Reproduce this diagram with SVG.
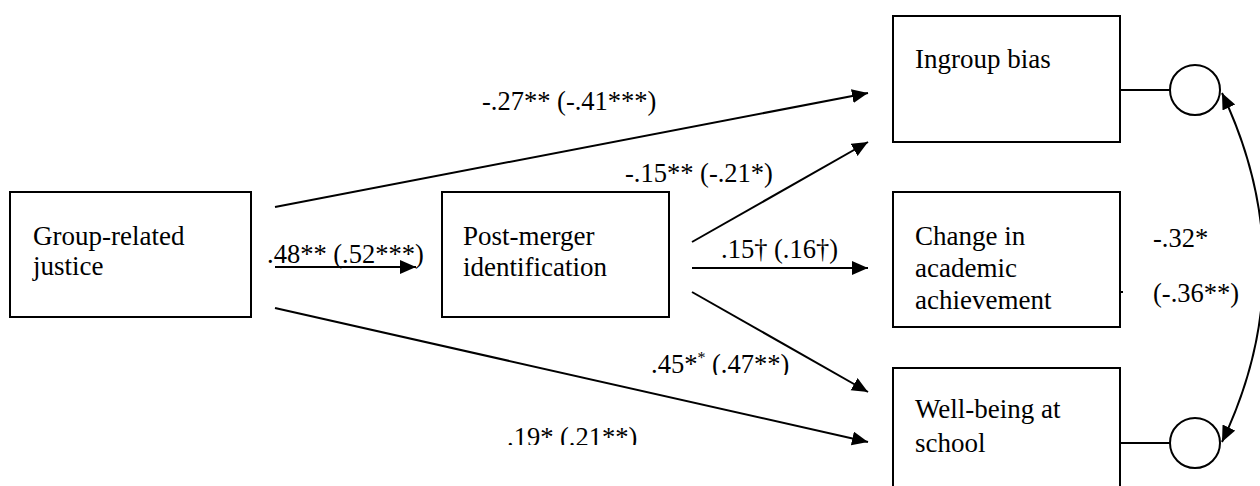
<svg xmlns="http://www.w3.org/2000/svg" width="1260" height="486" viewBox="0 0 1260 486">
<style>
.box{fill:#fff;stroke:#000;stroke-width:2}
.t{font-family:'Liberation Serif','Tinos','Times New Roman','DejaVu Serif','Noto Serif',serif;font-size:27px;fill:#000}
.e{font-family:'Liberation Serif','Tinos','Times New Roman','DejaVu Serif','Noto Serif',serif;font-size:26.5px;fill:#000}
.ln{fill:none;stroke:#000;stroke-width:2}
.ar{fill:none;stroke:#000;stroke-width:2;marker-end:url(#ah)}
.circ{fill:#fff;stroke:#000;stroke-width:2}
</style>
<defs>
<marker id="ah" markerUnits="userSpaceOnUse" markerWidth="18" markerHeight="16" refX="16" refY="7" orient="auto-start-reverse">
<path d="M0,0 L16,7 L0,14 z" fill="#000"/>
</marker>
<clipPath id="c45"><rect x="600" y="340" width="200" height="35"/></clipPath>
<clipPath id="c19"><rect x="480" y="410" width="200" height="35"/></clipPath>
</defs>
<rect width="1260" height="486" fill="#fff"/>
<g id="connectors">
<line class="ar" x1="275" y1="207" x2="868" y2="93"/>
<line class="ar" x1="275" y1="267" x2="416" y2="267"/>
<line class="ar" x1="275" y1="308" x2="868" y2="442"/>
<line class="ar" x1="692" y1="242" x2="868" y2="142"/>
<line class="ar" x1="692" y1="268" x2="868" y2="268"/>
<line class="ar" x1="692" y1="292" x2="868" y2="392"/>
<line class="ln" x1="1120" y1="90" x2="1170" y2="90"/>
<line class="ln" x1="1120" y1="443" x2="1170" y2="443"/>
<line class="ln" x1="1120" y1="292" x2="1123" y2="292" stroke-width="1"/>
<path class="ln" d="M1222,93 Q1305,268 1222,442" marker-start="url(#ah)" marker-end="url(#ah)"/>
<text class="e" x="482" y="110">-.27** (-.41***)</text>
<text class="e" x="267" y="263">.48** (.52***)</text>
<text class="e" x="625" y="182">-.15** (-.21*)</text>
<text class="e" x="721" y="258">.15† (.16†)</text>
<text class="e" x="651" y="373" clip-path="url(#c45)">.45*<tspan font-size="16" dy="-10">*</tspan><tspan dy="10"> (.47**)</tspan></text>
<text class="e" x="507" y="446" clip-path="url(#c19)">.19* (.21**)</text>
<text class="e" x="1153" y="247">-.32*</text>
<text class="e" x="1153" y="302">(-.36**)</text>
</g>
<g id="n-justice">
<rect class="box" x="10" y="192" width="241" height="125"/>
<text class="t" x="33" y="245">Group-related</text>
<text class="t" x="33" y="275">justice</text>
</g>
<g id="n-identification">
<rect class="box" x="442" y="192" width="227" height="125"/>
<text class="t" x="463" y="245">Post-merger</text>
<text class="t" x="463" y="276">identification</text>
</g>
<g id="n-bias">
<rect class="box" x="893" y="16" width="227" height="126"/>
<text class="t" x="915" y="68">Ingroup bias</text>
</g>
<g id="n-achievement">
<rect class="box" x="893" y="192" width="227" height="135"/>
<text class="t" x="915" y="245">Change in</text>
<text class="t" x="915" y="277">academic</text>
<text class="t" x="915" y="309">achievement</text>
</g>
<g id="n-wellbeing">
<rect class="box" x="893" y="368" width="227" height="130"/>
<text class="t" x="915" y="418">Well-being at</text>
<text class="t" x="915" y="452">school</text>
</g>
<g id="n-e1"><circle class="circ" cx="1195" cy="90" r="25"/></g>
<g id="n-e2"><circle class="circ" cx="1195" cy="443" r="25"/></g>
</svg>
